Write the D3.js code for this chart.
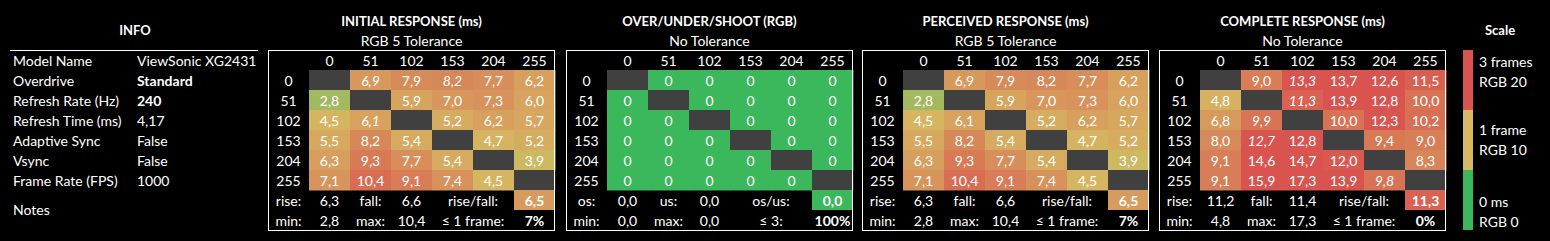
<!DOCTYPE html>
<html>
<head>
<meta charset="utf-8">
<script src="https://cdn.jsdelivr.net/npm/d3@7"></script>
<style>
	html, body { margin: 0; padding: 0; background: #000; }
	svg { display: block; }
</style>
</head>
<body>
<div class="chart"></div>
<script>
// Transition levels (rows = from, columns = to)
var levels = [0, 51, 102, 153, 204, 255];

var infoLabels = ['Model Name', 'Overdrive', 'Refresh Rate (Hz)', 'Refresh Time (ms)', 'Adaptive Sync', 'Vsync', 'Frame Rate (FPS)'];
var infoValues = ['ViewSonic XG2431', 'Standard', '240', '4,17', 'False', 'False', '1000'];
var infoBold = [false, true, true, false, false, false, false];

var panelTitles = ['INITIAL RESPONSE (ms)', 'OVER/UNDER/SHOOT (RGB)', 'PERCEIVED RESPONSE (ms)', 'COMPLETE RESPONSE (ms)'];
var panelSubtitles = ['RGB 5 Tolerance', 'No Tolerance', 'RGB 5 Tolerance', 'No Tolerance'];

var initialResponse = [
	[null, 6.9, 7.9, 8.2, 7.7, 6.2],
	[2.8, null, 5.9, 7.0, 7.3, 6.0],
	[4.5, 6.1, null, 5.2, 6.2, 5.7],
	[5.5, 8.2, 5.4, null, 4.7, 5.2],
	[6.3, 9.3, 7.7, 5.4, null, 3.9],
	[7.1, 10.4, 9.1, 7.4, 4.5, null]
];
var initialItalic = [[0, 1], [0, 3], [2, 1]];

var overshoot = [
	[null, 0, 0, 0, 0, 0],
	[0, null, 0, 0, 0, 0],
	[0, 0, null, 0, 0, 0],
	[0, 0, 0, null, 0, 0],
	[0, 0, 0, 0, null, 0],
	[0, 0, 0, 0, 0, null]
];

var perceivedResponse = [
	[null, 6.9, 7.9, 8.2, 7.7, 6.2],
	[2.8, null, 5.9, 7.0, 7.3, 6.0],
	[4.5, 6.1, null, 5.2, 6.2, 5.7],
	[5.5, 8.2, 5.4, null, 4.7, 5.2],
	[6.3, 9.3, 7.7, 5.4, null, 3.9],
	[7.1, 10.4, 9.1, 7.4, 4.5, null]
];

var completeResponse = [
	[null, 9.0, 13.3, 13.7, 12.6, 11.5],
	[4.8, null, 11.3, 13.9, 12.8, 10.0],
	[6.8, 9.9, null, 10.0, 12.3, 10.2],
	[8.0, 12.7, 12.8, null, 9.4, 9.0],
	[9.1, 14.6, 14.7, 12.0, null, 8.3],
	[9.1, 15.9, 17.3, 13.9, 9.8, null]
];
var completeItalic = [[0, 2], [1, 2], [2, 1], [3, 1], [5, 4]];

// Summary rows: [label, value, label, value, label, value]
var summaryTop = [
	['rise:', '6,3', 'fall:', '6,6', 'rise/fall:', 6.5],
	['os:', '0,0', 'us:', '0,0', 'os/us:', 0.0],
	['rise:', '6,3', 'fall:', '6,6', 'rise/fall:', 6.5],
	['rise:', '11,2', 'fall:', '11,4', 'rise/fall:', 11.3]
];
var summaryBottom = [
	['min:', '2,8', 'max:', '10,4', '\u2264 1 frame:', '7%'],
	['min:', '0,0', 'max:', '0,0', '\u2264 3:', '100%'],
	['min:', '2,8', 'max:', '10,4', '\u2264 1 frame:', '7%'],
	['min:', '4,8', 'max:', '17,3', '\u2264 1 frame:', '0%']
];

var scaleLabels = [['3 frames', 'RGB 20'], ['1 frame', 'RGB 10'], ['0 ms', 'RGB 0']];

var green = '#3cb85c',
	yellow = '#d6b962',
	red = '#d9534f',
	diagColor = '#404040',
	textColor = '#ffffff',
	fontFamily = 'Lato, "Open Sans", sans-serif',
	fontSize = '14px',
	titleSize = '13px';

var responseColor = d3.scaleLinear().domain([0, 4.17, 12.5]).range([green, yellow, red]).clamp(true);
var rgbColor = d3.scaleLinear().domain([0, 10, 20]).range([green, yellow, red]).clamp(true);
var fmt = function(v) { return d3.format('.1f')(v).replace('.', ','); };

var panels = [
	{data: initialResponse, italic: initialItalic, color: responseColor, fmt: fmt},
	{data: overshoot, italic: [], color: rgbColor, fmt: function(v) { return String(v); }},
	{data: perceivedResponse, italic: [], color: responseColor, fmt: fmt},
	{data: completeResponse, italic: completeItalic, color: responseColor, fmt: fmt}
];
var panelX = [268, 566, 862, 1159],
	panelWidth = 287;

var svg = d3.select('.chart').append('svg')
	.attr('width', 1550)
	.attr('height', 241)
	.attr('font-family', fontFamily)
	.attr('font-size', fontSize)
	.attr('fill', textColor);

var rowKeys = ['head'].concat(levels, ['s1', 's2']);
var y = d3.scaleBand().domain(rowKeys).range([50, 230]);

// Info block
svg.append('text')
	.attr('x', 135).attr('y', 35)
	.attr('text-anchor', 'middle')
	.attr('font-weight', 'bold')
	.attr('font-size', titleSize)
	.text('INFO');
svg.append('line')
	.attr('x1', 10).attr('x2', 258)
	.attr('y1', 50.5).attr('y2', 50.5)
	.attr('stroke', '#fff').attr('stroke-width', 1);
infoLabels.forEach(function(label, i) {
	var rowY = y(rowKeys[i]) + 16;
	svg.append('text').attr('x', 13).attr('y', rowY).text(label);
	svg.append('text').attr('x', 137).attr('y', rowY)
		.attr('font-weight', infoBold[i] ? 'bold' : 'normal')
		.text(infoValues[i]);
});
svg.append('text').attr('x', 13).attr('y', 215).text('Notes');

// Panels
panels.forEach(function(p, k) {
	var x0 = panelX[k];
	var x = d3.scaleBand().domain(['label'].concat(levels)).range([x0, x0 + panelWidth]);
	var g = svg.append('g');
	var cx = x0 + panelWidth / 2;

	g.append('text')
		.attr('x', cx).attr('y', 26)
		.attr('text-anchor', 'middle')
		.attr('font-weight', 'bold')
		.attr('font-size', titleSize)
		.text(panelTitles[k]);
	g.append('text')
		.attr('x', cx).attr('y', 46)
		.attr('text-anchor', 'middle')
		.text(panelSubtitles[k]);

	// column headers and row labels
	levels.forEach(function(l) {
		g.append('text')
			.attr('x', x(l) + x.bandwidth() / 2).attr('y', y('head') + 16)
			.attr('text-anchor', 'middle').text(l);
		g.append('text')
			.attr('x', x('label') + x.bandwidth() / 2).attr('y', y(l) + 16)
			.attr('text-anchor', 'middle').text(l);
	});

	// cells
	p.data.forEach(function(row, r) {
		row.forEach(function(v, c) {
			var from = levels[r], to = levels[c];
			g.append('rect')
				.attr('x', x(to)).attr('y', y(from))
				.attr('width', x.bandwidth() + 0.5).attr('height', y.bandwidth() + 0.5)
				.attr('fill', v === null ? diagColor : p.color(v));
			if (v !== null) {
				var isItalic = p.italic.some(function(d) { return d[0] === r && d[1] === c; });
				g.append('text')
					.attr('x', x(to) + x.bandwidth() / 2).attr('y', y(from) + 16)
					.attr('text-anchor', 'middle')
					.attr('font-style', isItalic ? 'italic' : 'normal')
					.text(p.fmt(v));
			}
		});
	});

	// summary rows
	var cols = ['label'].concat(levels);
	[summaryTop[k], summaryBottom[k]].forEach(function(s, i) {
		var rowY = y(i === 0 ? 's1' : 's2');
		for (var j = 0; j < 4; j++) {
			g.append('text')
				.attr('x', x(cols[j]) + x.bandwidth() / 2).attr('y', rowY + 16)
				.attr('text-anchor', 'middle').text(s[j]);
		}
		g.append('text')
			.attr('x', x(cols[5])).attr('y', rowY + 16)
			.attr('text-anchor', 'middle').text(s[4]);
		if (i === 0) {
			g.append('rect')
				.attr('x', x(cols[6])).attr('y', rowY)
				.attr('width', x.bandwidth()).attr('height', y.bandwidth())
				.attr('fill', p.color(s[5]));
		}
		g.append('text')
			.attr('x', x(cols[6]) + x.bandwidth() / 2).attr('y', rowY + 16)
			.attr('text-anchor', 'middle')
			.attr('font-weight', 'bold')
			.text(i === 0 ? fmt(s[5]) : s[5]);
	});

	g.append('rect')
		.attr('x', x0 + 0.5).attr('y', 50.5)
		.attr('width', panelWidth - 1).attr('height', 180)
		.attr('fill', 'none')
		.attr('stroke', '#fff').attr('stroke-width', 1);
});

// Scale legend
svg.append('text')
	.attr('x', 1500).attr('y', 35)
	.attr('text-anchor', 'middle')
	.attr('font-weight', 'bold')
	.attr('font-size', titleSize)
	.text('Scale');
var scaleY = d3.scaleBand().domain([0, 1, 2]).range([50, 230]);
var scaleColors = [red, yellow, green];
scaleLabels.forEach(function(lbl, i) {
	svg.append('rect')
		.attr('x', 1463).attr('y', scaleY(i))
		.attr('width', 10).attr('height', scaleY.bandwidth())
		.attr('fill', scaleColors[i]);
});
svg.append('text').attr('x', 1479).attr('y', scaleY(0) + 17).text(scaleLabels[0][0]);
svg.append('text').attr('x', 1479).attr('y', scaleY(0) + 37).text(scaleLabels[0][1]);
svg.append('text').attr('x', 1479).attr('y', scaleY(1) + 25).text(scaleLabels[1][0]);
svg.append('text').attr('x', 1479).attr('y', scaleY(1) + 45).text(scaleLabels[1][1]);
svg.append('text').attr('x', 1479).attr('y', scaleY(2) + 37).text(scaleLabels[2][0]);
svg.append('text').attr('x', 1479).attr('y', scaleY(2) + 57).text(scaleLabels[2][1]);
</script>
</body>
</html>
